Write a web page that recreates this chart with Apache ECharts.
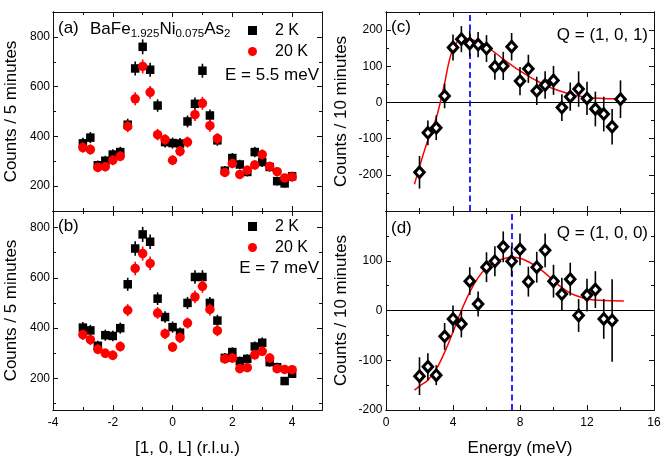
<!DOCTYPE html>
<html><head><meta charset="utf-8">
<script src="https://cdn.jsdelivr.net/npm/echarts@6/dist/echarts.min.js"></script>
<style>html,body{margin:0;padding:0;background:#fff}#c{width:664px;height:465px}</style>
</head><body><div id="c"></div>
<script>
// ---------------- DATA ----------------
const L_VALUES = [-3,-2.75,-2.5,-2.25,-2,-1.75,-1.5,-1.25,-1,-0.75,-0.5,-0.25,0,0.25,0.5,0.75,1,1.25,1.5,1.75,2,2.25,2.5,2.75,3,3.25,3.5,3.75,4];

// panel (a): E = 5.5 meV
const A_2K      = [372,395,284,302,327,337,447,673,760,668,524,377,373,371,460,531,664,484,384,262,313,287,257,337,297,277,220,211,240];
const A_2K_ERR  = [22,22,19,20,21,21,24,28,30,28,25,22,22,22,24,25,28,24,22,19,20,19,18,21,20,19,17,17,18];
const A_20K     = [355,347,275,278,304,320,440,551,681,577,407,387,304,340,377,487,533,443,391,255,291,247,264,285,327,279,258,233,237];
const A_20K_ERR = [21,21,19,19,20,20,23,26,28,26,23,22,20,21,22,25,26,24,22,18,19,18,18,19,20,19,18,17,17];

// panel (b): E = 7 meV
const B_2K      = [402,391,330,372,369,400,574,716,772,743,517,444,404,382,500,603,603,500,430,282,305,269,278,327,342,265,245,190,219];
const B_2K_ERR  = [22,22,20,22,21,22,26,29,30,29,25,23,22,21,24,27,27,24,23,19,19,18,18,20,21,18,18,16,17];
const B_20K     = [374,354,316,300,292,327,471,637,696,657,460,378,325,362,420,524,566,474,390,278,281,239,243,294,308,281,239,236,235];
const B_20K_ERR = [21,21,20,19,19,20,24,27,28,27,23,21,20,21,22,25,26,24,22,19,19,17,17,19,19,19,17,17,17];

// panel (c): Q = (1,0,1)
const C_E      = [2,2.5,3,3.5,4,4.5,5,5.5,6,6.5,7,7.5,8,8.5,9,9.5,10,10.5,11,11.5,12,12.5,13,13.5,14];
const C_VALUES = [-193,-84,-70,18,152,175,163,160,149,99,101,154,59,93,32,48,61,-14,16,37,11,-18,-32,-67,9];
const C_ERR    = [45,34,34,34,36,36,36,35,37,36,39,38,39,39,39,38,40,37,39,49,46,48,48,49,52];
const FIT_C_E  = [1.7,2,2.5,3,3.25,3.5,3.75,4,4.25,4.5,4.75,5,5.5,6,6.5,7,7.5,8,8.5,9,9.5,10,10.5,11,11.5,12,13,14.2];
const FIT_C_V  = [-226,-178,-104,-43,2,53,110,149,167,174,176,175,168,155,138,120,103,87,73,60,48,38,30,23,18,14,11,10];
const C_PEAK   = 5;

// panel (d): Q = (1,0,0)
const D_E      = [2,2.5,3,3.5,4,4.5,5,5.5,6,6.5,7,7.5,8,8.5,9,9.5,10,10.5,11,11.5,12,12.5,13,13.5];
const D_VALUES = [-132,-113,-130,-52,-17,-27,59,13,87,99,128,99,123,58,87,121,59,33,63,-10,31,42,-17,-20];
const D_ERR    = [38,27,20,27,27,27,28,25,30,30,31,30,32,30,31,34,33,33,33,33,33,37,40,83];
const FIT_D_E  = [1.7,2,2.5,3,3.5,4,4.5,5,5.5,6,6.5,7,7.5,8,8.5,9,9.5,10,10.5,11,11.5,12,12.5,13,14.2];
const FIT_D_V  = [-160,-152,-140,-118,-84,-43,0,37,66,86,98,104,107,105,98,88,75,60,46,35,28,23,21,20,19];
const D_PEAK   = 7.5;

// axis ticks
const L_MAJOR = [-4,-2,0,2,4], L_MINOR = [-3,-1,1,3];
const E_MAJOR = [0,4,8,12,16], E_MINOR = [2,6,10,14];
const AB_Y_MAJOR = [200,400,600,800];
const A_Y_MINOR = [300,500,700], B_Y_MINOR = [100,300,500,700];
const CD_Y_MAJOR = [-200,-100,0,100,200];
const C_Y_MINOR = [-250,-150,-50,50,150], D_Y_MINOR = [-150,-50,50,150];
const D_Y_LABELS = [-200,-100,0,100];

// ---------------- LAYOUT ----------------
const FONT = '"Liberation Sans", Arial, Helvetica, sans-serif';
const AXC = '#111';
const grids = [
  {left:53, top:12, width:269, height:199},   // a
  {left:53, top:211, width:269, height:199},  // b
  {left:386, top:12, width:268, height:199},  // c
  {left:386, top:211, width:268, height:199}  // d
];
const xAxes = [], yAxes = [];
function addAxes(list, dim, grid, min, max, majors, minors, o) {
  const mainPos = dim === 'x' ? 'bottom' : 'left';
  const mirPos = dim === 'x' ? 'top' : 'right';
  function mk(pos, vals, len, main) {
    const ax = {
      type:'value', gridIndex:grid, min:min, max:max, position:pos,
      axisLine:{show:true, onZero:false, lineStyle:{color:AXC, width:1}},
      splitLine:{show:false},
      axisTick:{show:true, inside:true, length:len, customValues:vals, lineStyle:{color:AXC, width:1}},
      axisLabel:{show:false},
      axisPointer:{show:false}
    };
    if (main && o.labels) {
      ax.axisLabel = {show:true, customValues:o.labels, fontSize:12, fontFamily:FONT, color:'#000', margin:o.margin};
    }
    if (main && o.name) {
      ax.name = o.name; ax.nameLocation = 'middle'; ax.nameGap = o.nameGap;
      ax.nameTextStyle = {fontSize:17, fontFamily:FONT, color:'#000'};
    }
    list.push(ax);
  }
  const idx = list.length;
  mk(mainPos, majors, 5, true);
  mk(mainPos, minors, 3, false);
  mk(mirPos, majors, 5, false);
  mk(mirPos, minors, 3, false);
  return idx;
}
const xa = addAxes(xAxes,'x',0,-4,5,L_MAJOR,L_MINOR,{});
const ya = addAxes(yAxes,'y',0,100,900,AB_Y_MAJOR,A_Y_MINOR,{labels:AB_Y_MAJOR, margin:3, name:'Counts / 5 minutes', nameGap:33});
const xb = addAxes(xAxes,'x',1,-4,5,L_MAJOR,L_MINOR,{labels:L_MAJOR, margin:7, name:'[1, 0, L] (r.l.u.)', nameGap:30});
const yb = addAxes(yAxes,'y',1,75,865,AB_Y_MAJOR,B_Y_MINOR,{labels:AB_Y_MAJOR, margin:3, name:'Counts / 5 minutes', nameGap:33});
const xc = addAxes(xAxes,'x',2,0,16,E_MAJOR,E_MINOR,{});
const yc = addAxes(yAxes,'y',2,-300,250,CD_Y_MAJOR,C_Y_MINOR,{labels:CD_Y_MAJOR, margin:3.5, name:'Counts / 10 minutes', nameGap:36});
const xd = addAxes(xAxes,'x',3,0,16,E_MAJOR,E_MINOR,{labels:E_MAJOR, margin:7, name:'Energy (meV)', nameGap:30});
const yd = addAxes(yAxes,'y',3,-200,200,CD_Y_MAJOR,D_Y_MINOR,{labels:D_Y_LABELS, margin:3.5, name:'Counts / 10 minutes', nameGap:36});

// ---------------- SERIES ----------------
function pairs(xs, ys) { return xs.map((x, i) => [x, ys[i]]); }
function errBars(xi, yi, xs, ys, es, color, w, z) {
  return {
    type:'custom', xAxisIndex:xi, yAxisIndex:yi, z:z, silent:true, animation:false,
    data: xs.map((x, i) => [x, ys[i], es[i]]),
    encode:{x:0, y:1},
    renderItem: function (params, api) {
      const x = api.value(0), y = api.value(1), e = api.value(2);
      const p1 = api.coord([x, y - e]), p2 = api.coord([x, y + e]);
      return {type:'line', shape:{x1:p1[0], y1:p1[1], x2:p2[0], y2:p2[1]}, style:{stroke:color, lineWidth:w}};
    }
  };
}
function sq(xi, yi, xs, ys) {
  return {type:'scatter', name:'2 K', xAxisIndex:xi, yAxisIndex:yi, z:3, animation:false,
    symbol:'rect', symbolSize:8.5, itemStyle:{color:'#000', opacity:1}, data:pairs(xs, ys)};
}
function circ(xi, yi, xs, ys) {
  return {type:'scatter', name:'20 K', xAxisIndex:xi, yAxisIndex:yi, z:5, animation:false,
    symbol:'circle', symbolSize:9.5, itemStyle:{color:'#ff0000', opacity:1}, data:pairs(xs, ys)};
}
function diam(xi, yi, xs, ys) {
  return {type:'scatter', xAxisIndex:xi, yAxisIndex:yi, z:6, animation:false,
    symbol:'diamond', symbolSize:[9.5, 10.5], itemStyle:{color:'#fff', borderColor:'#000', borderWidth:3, opacity:1}, data:pairs(xs, ys)};
}
function fit(xi, yi, xs, ys, peak) {
  return {type:'line', xAxisIndex:xi, yAxisIndex:yi, z:3, animation:false, smooth:0.35,
    showSymbol:false, symbol:'none', lineStyle:{color:'#ff0000', width:1.5}, data:pairs(xs, ys),
    markLine:{silent:true, symbol:['none','none'], label:{show:false}, animation:false, z:2,
      data:[
        {yAxis:0, lineStyle:{color:'#000', width:1.2, type:'solid'}},
        {xAxis:peak, lineStyle:{color:'#0000ff', width:1.7, type:[6,3.5]}}
      ]}
  };
}
const series = [
  errBars(xa, ya, L_VALUES, A_2K, A_2K_ERR, '#000', 1.6, 2),
  sq(xa, ya, L_VALUES, A_2K),
  errBars(xa, ya, L_VALUES, A_20K, A_20K_ERR, '#ff0000', 1.6, 4),
  circ(xa, ya, L_VALUES, A_20K),
  errBars(xb, yb, L_VALUES, B_2K, B_2K_ERR, '#000', 1.6, 2),
  sq(xb, yb, L_VALUES, B_2K),
  errBars(xb, yb, L_VALUES, B_20K, B_20K_ERR, '#ff0000', 1.6, 4),
  circ(xb, yb, L_VALUES, B_20K),
  fit(xc, yc, FIT_C_E, FIT_C_V, C_PEAK),
  errBars(xc, yc, C_E, C_VALUES, C_ERR, '#000', 1.6, 4),
  diam(xc, yc, C_E, C_VALUES),
  fit(xd, yd, FIT_D_E, FIT_D_V, D_PEAK),
  errBars(xd, yd, D_E, D_VALUES, D_ERR, '#000', 1.6, 4),
  diam(xd, yd, D_E, D_VALUES)
];

// ---------------- ANNOTATIONS ----------------
function txt(x, y, s, size, align, extra) {
  return Object.assign({type:'text', x:x, y:y, z:20, silent:true,
    style:Object.assign({text:s, fontSize:size, fontFamily:FONT, fill:'#000',
      align:align, textAlign:align, verticalAlign:'middle', textVerticalAlign:'middle'}, extra || {})});
}
const graphic = [
  txt(58, 28.5, '(a)', 17, 'left'),
  txt(90, 29, 'BaFe{s|1.925}Ni{s|0.075}As{s|2}', 17, 'left',
      {lineHeight:22, rich:{s:{fontSize:11.5, fontFamily:FONT, fill:'#000', verticalAlign:'bottom', lineHeight:12}}}),
  txt(319, 75.5, 'E = 5.5 meV', 17, 'right'),
  txt(58, 226, '(b)', 17, 'left'),
  txt(319, 268, 'E = 7 meV', 17, 'right'),
  txt(391, 27, '(c)', 17, 'left'),
  txt(648, 35, 'Q = (1, 0, 1)', 17, 'right'),
  txt(391, 228, '(d)', 17, 'left'),
  txt(648, 233, 'Q = (1, 0, 0)', 17, 'right')
];
function legendAt(top) {
  return {data:[{name:'2 K', icon:'rect'}, {name:'20 K', icon:'circle'}], orient:'vertical',
    left:248, top:top, padding:0, itemWidth:9, itemHeight:9, itemGap:4, selectedMode:false,
    itemStyle:{opacity:1},
    textStyle:{fontSize:16, fontFamily:FONT, color:'#000', padding:[0,0,0,13], lineHeight:17}};
}

const chart = echarts.init(document.getElementById('c'), null, {renderer:'canvas'});
chart.setOption({
  animation:false,
  backgroundColor:'#fff',
  grid:grids,
  xAxis:xAxes,
  yAxis:yAxes,
  legend:[legendAt(22), legendAt(218)],
  graphic:graphic,
  series:series
});
</script></body></html>
